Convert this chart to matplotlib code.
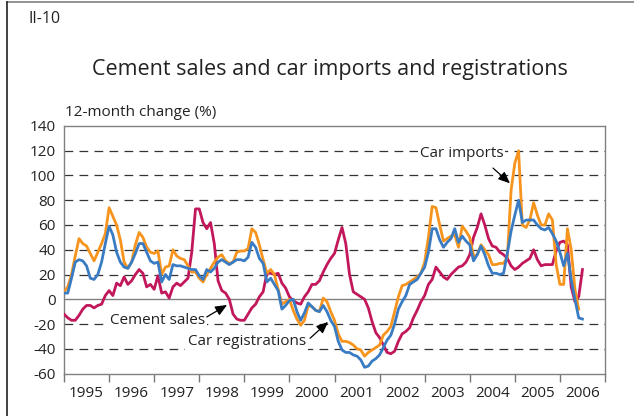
import matplotlib
matplotlib.use("Agg")
import matplotlib.pyplot as plt
from matplotlib.lines import Line2D

# ---- data (12-month change, %, monthly from Jan 1995) ----
years = ["1995", "1996", "1997", "1998", "1999", "2000",
         "2001", "2002", "2003", "2004", "2005", "2006"]
y_ticks = [140, 120, 100, 80, 60, 40, 20, 0, -20, -40, -60]

car_imports = [
    6, 10, 20, 35, 49, 45, 43, 37, 31, 38, 45, 53,
    74, 67, 60, 48, 30, 25, 30, 44, 54, 50, 42, 38,
    37, 39, 20, 26, 27, 40, 35, 33, 32, 27, 22, 22,
    17, 14, 20, 25, 30, 34, 36, 31, 29, 30, 38, 39,
    39, 41, 57, 54, 44, 32, 21, 24, 20, 8, -4, -2,
    0, -9, -16, -21, -17, -5, -6, -9, -10, 1, -2, -10,
    -17, -28, -34, -34, -35, -37, -40, -41, -46, -43, -41, -39,
    -37, -29, -26, -22, -10, 2, 11, 12, 14, 16, 18, 21,
    30, 50, 75, 74, 60, 47, 49, 51, 52, 42, 59, 55,
    50, 35, 36, 44, 40, 36, 28, 28, 29, 29, 34, 88,
    110, 120, 60, 58, 64, 78, 68, 60, 60, 69, 64, 28,
    12, 12, 57, 40, 8, -8,
]

car_registrations = [
    5, 5, 17, 30, 32, 31, 27, 17, 16, 20, 30, 45,
    59, 52, 38, 30, 26, 25, 30, 37, 45, 45, 38, 31,
    29, 30, 14, 20, 16, 28, 27, 27, 26, 25, 24, 24,
    19, 16, 24, 22, 25, 30, 32, 30, 28, 30, 32, 32,
    31, 34, 46, 42, 33, 29, 14, 17, 12, 7, -8, -5,
    -1, 0, -10, -17, -11, -3, -6, -9, -10, -5, -10, -17,
    -22, -34, -41, -43, -43, -45, -46, -49, -55, -54, -50, -48,
    -45, -39, -33, -29, -20, -8, -2, 3, 12, 14, 16, 21,
    26, 38, 57, 57, 48, 42, 46, 49, 57, 46, 51, 47,
    44, 31, 36, 43, 36, 27, 21, 21, 20, 21, 37, 55,
    68, 80, 62, 64, 64, 64, 60, 57, 56, 58, 53, 47,
    38, 27, 37, 16, 0, -15, -16,
]

cement_sales = [
    -12, -15, -17, -17, -13, -8, -5, -5, -7, -5, -4, 3,
    7, 3, 13, 11, 18, 12, 15, 20, 24, 21, 10, 12,
    8, 19, 5, 6, 1, 10, 13, 11, 14, 17, 38, 73,
    73, 62, 57, 62, 45, 15, 7, 5, 0, -12, -16, -17,
    -17, -12, -7, -4, 2, 6, 21, 21, 20, 21, 13, 9,
    2, -1, -3, -4, 2, 6, 12, 12, 15, 22, 28, 33,
    37, 48, 58, 45, 20, 6, 4, 2, 0, -7, -18, -27,
    -31, -37, -43, -44, -42, -34, -28, -26, -23, -15, -9, -2,
    3, 12, 16, 26, 22, 18, 16, 20, 23, 26, 27, 30,
    36, 50, 58, 69, 60, 49, 43, 42, 38, 36, 33, 27,
    24, 26, 29, 31, 33, 40, 32, 27, 28, 28, 28, 39,
    46, 47, 44, 10, -2, 2, 24,
]

# ---- styling ----
ORANGE = "#F7941D"
BLUE = "#3A7CC4"
MAGENTA = "#C2185B"
FONT = ["Open Sans", "DejaVu Sans"]
plt.rcParams["font.family"] = FONT
TXT = "#222222"

fig = plt.figure(figsize=(6.34, 4.16), dpi=100)
ax = fig.add_axes([64 / 634, 1 - 373.5 / 416, (605 - 64) / 634, (373.5 - 126) / 416])

for yv in y_ticks:
    if yv in (140, -60):
        continue
    if yv == 0:
        ax.axhline(0, color="#808080", lw=1.0, zorder=1)
    else:
        ax.axhline(yv, color="#333333", lw=0.9, ls=(0, (7, 5)), zorder=1)

ax.plot(range(len(cement_sales)), cement_sales, color=MAGENTA, lw=2.0, zorder=3)
ax.plot(range(len(car_imports)), car_imports, color=ORANGE, lw=2.0, zorder=4)
ax.plot(range(len(car_registrations)), car_registrations, color=BLUE, lw=2.0, zorder=5)

n_months = 12 * len(years)
ax.set_xlim(0, n_months)
ax.set_ylim(-60, 140)
ax.set_yticks(y_ticks)
ax.set_yticklabels([str(v) for v in y_ticks])
ax.tick_params(axis="y", length=0, pad=6, labelsize=11, colors=TXT)

ax.set_xticks(range(0, n_months + 1, 12))
ax.set_xticklabels([])
ax.set_xticks([12 * i + 6 for i in range(len(years))], minor=True)
ax.set_xticklabels(years, minor=True)
ax.tick_params(axis="x", which="major", length=6, width=1.0, color="#777777", direction="out")
ax.tick_params(axis="x", which="minor", length=0, pad=9, labelsize=11, colors=TXT)

for s in ax.spines.values():
    s.set_color("#808080")
    s.set_linewidth(1.0)

arrow = dict(arrowstyle="-|>,head_length=0.7,head_width=0.3", color="black", lw=0.9,
             shrinkA=0, shrinkB=0)
box = dict(facecolor="white", edgecolor="none", pad=1.5)

ax.text(105.8, 118, "Car imports", ha="center", va="center", fontsize=11, color=TXT,
        bbox=box, zorder=6)
ax.annotate("", xy=(118.7, 93.7), xytext=(114.2, 106), arrowprops=arrow, zorder=6)

ax.text(24.8, -17, "Cement sales", ha="center", va="center", fontsize=11, color=TXT,
        bbox=box, zorder=6)
ax.annotate("", xy=(43.4, -4.6), xytext=(38, -14.3), arrowprops=arrow, zorder=6)

ax.text(48.6, -34.3, "Car registrations", ha="center", va="center", fontsize=11, color=TXT,
        bbox=box, zorder=6)
ax.annotate("", xy=(70.3, -18.3), xytext=(65.5, -31.5), arrowprops=arrow, zorder=6)

fig.text(28 / 634, 1 - 19 / 416, "II-10", fontsize=11.5, color=TXT, ha="left", va="center")
fig.text(330 / 634, 1 - 70 / 416, "Cement sales and car imports and registrations",
         fontsize=15.5, color=TXT, ha="center", va="center")
fig.text(65 / 634, 1 - 112 / 416, "12-month change (%)", fontsize=11, color=TXT,
         ha="left", va="center")

# figure frame (top and left edges)
fig.add_artist(Line2D([7 / 634, 1], [1 - 2 / 416, 1 - 2 / 416], color="#808080", lw=1.2,
                      transform=fig.transFigure))
fig.add_artist(Line2D([7 / 634, 7 / 634], [0, 1 - 2 / 416], color="#222222", lw=1.2,
                      transform=fig.transFigure))

fig.savefig("out.png", dpi=100)
